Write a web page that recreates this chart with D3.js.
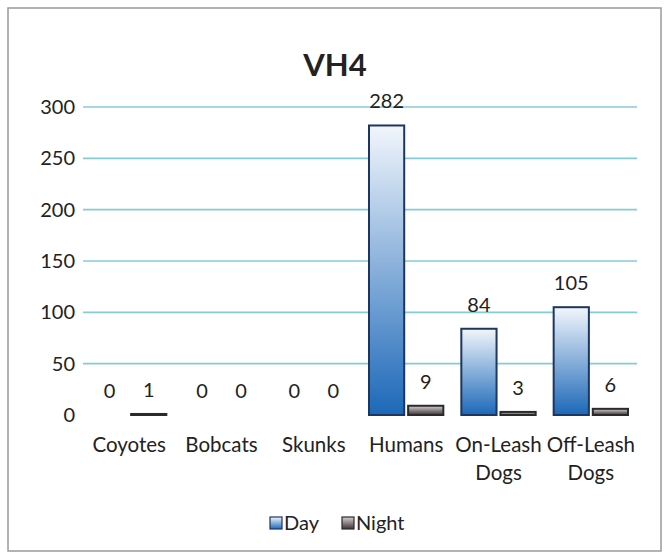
<!DOCTYPE html>
<meta charset="utf-8">
<html>
<head>
<style>
body { margin: 0; background: #fff; }
text { font-family: "Lato", "Open Sans", sans-serif; fill: #222; }
</style>
</head>
<body>
<svg width="668" height="558"></svg>
<script src="https://cdn.jsdelivr.net/npm/d3@7"></script>
<script>
var categories = ["Coyotes", "Bobcats", "Skunks", "Humans", "On-Leash Dogs", "Off-Leash Dogs"];
var series = ["Day", "Night"];
var dayValues = [0, 0, 0, 282, 84, 105];
var nightValues = [1, 0, 0, 9, 3, 6];
var yTicks = [0, 50, 100, 150, 200, 250, 300];

var svg = d3.select("svg");

var defs = svg.append("defs");
var gDay = defs.append("linearGradient").attr("id", "gday")
    .attr("x1", 0).attr("y1", 0).attr("x2", 0).attr("y2", 1);
gDay.append("stop").attr("offset", "0%").attr("stop-color", "#f2f6fc");
gDay.append("stop").attr("offset", "100%").attr("stop-color", "#1c68b8");
var gNight = defs.append("linearGradient").attr("id", "gnight")
    .attr("x1", 0).attr("y1", 0).attr("x2", 0).attr("y2", 1);
gNight.append("stop").attr("offset", "0%").attr("stop-color", "#d9cfd0");
gNight.append("stop").attr("offset", "100%").attr("stop-color", "#3a3536");

svg.append("rect").attr("x", 8).attr("y", 8).attr("width", 653).attr("height", 543)
    .attr("fill", "#fff").attr("stroke", "#9a9a9a").attr("stroke-width", 1.5);

svg.append("text").attr("x", 335).attr("y", 76).attr("text-anchor", "middle")
    .style("font-size", "31px").style("font-weight", "bold").text("VH4");

var x0 = d3.scaleBand().domain(categories).range([83, 637]);
var x1 = d3.scaleBand().domain(series).range([0, x0.bandwidth()])
    .paddingInner(0.1).paddingOuter(0.23);
var y = d3.scaleLinear().domain([0, 300]).range([415, 107]);

// gridlines
svg.append("g").selectAll("line").data(yTicks.filter(function(d){return d > 0;}))
  .enter().append("line")
    .attr("x1", 83).attr("x2", 637)
    .attr("y1", function(d){ return y(d); }).attr("y2", function(d){ return y(d); })
    .attr("stroke", "#86ccd6").attr("stroke-width", 1.6);

var yAxis = svg.append("g").attr("transform", "translate(75,0)")
    .call(d3.axisLeft(y).tickValues(yTicks).tickSize(0).tickPadding(0));
yAxis.select(".domain").remove();
yAxis.selectAll("text").style("font-size", "20px").attr("fill", "#222");

var rows = categories.map(function(c, i){
  return [{cat: c, s: "Day", v: dayValues[i]}, {cat: c, s: "Night", v: nightValues[i]}];
});

var groups = svg.append("g").selectAll("g").data(rows).enter().append("g")
    .attr("transform", function(d){ return "translate(" + x0(d[0].cat) + ",0)"; });

groups.selectAll("rect").data(function(d){ return d.filter(function(e){ return e.v > 0; }); })
  .enter().append("rect")
    .attr("x", function(d){ return x1(d.s); })
    .attr("width", x1.bandwidth())
    .attr("y", function(d){ return y(d.v); })
    .attr("height", function(d){ return y(0) - y(d.v); })
    .attr("fill", function(d){ return d.s === "Day" ? "url(#gday)" : "url(#gnight)"; })
    .attr("stroke", function(d){ return d.s === "Day" ? "#1d3660" : "#2a2a2a"; })
    .attr("stroke-width", 2);

groups.selectAll("text").data(function(d){ return d; })
  .enter().append("text")
    .attr("x", function(d){ return x1(d.s) + x1.bandwidth() / 2; })
    .attr("y", function(d){ return y(d.v) - 17; })
    .attr("text-anchor", "middle")
    .style("font-size", "20px")
    .text(function(d){ return d.v; });

// category labels
var cats = svg.append("g").selectAll("text").data(categories).enter().append("text")
    .attr("x", function(d){ return x0(d) + x0.bandwidth() / 2; })
    .attr("y", 452)
    .attr("text-anchor", "middle")
    .style("font-size", "20.5px");
cats.each(function(d){
  var words = d.indexOf("Dogs") > 0 ? [d.replace(" Dogs", ""), "Dogs"] : [d];
  var t = d3.select(this);
  words.forEach(function(w, i){
    t.append("tspan").attr("x", x0(d) + x0.bandwidth() / 2).attr("dy", i ? 28 : 0).text(w);
  });
});

// legend
var legend = svg.append("g").attr("transform", "translate(270,530)");
var lx = [0, 72];
series.forEach(function(s, i){
  var g = legend.append("g").attr("transform", "translate(" + lx[i] + ",0)");
  g.append("rect").attr("x", 0).attr("y", -13).attr("width", 12).attr("height", 12)
    .attr("fill", s === "Day" ? "url(#gday)" : "url(#gnight)")
    .attr("stroke", s === "Day" ? "#1d3660" : "#2a2a2a").attr("stroke-width", 1.2);
  g.append("text").attr("x", 14).attr("y", 0).style("font-size", "20px").text(s);
});
</script>
</body>
</html>
